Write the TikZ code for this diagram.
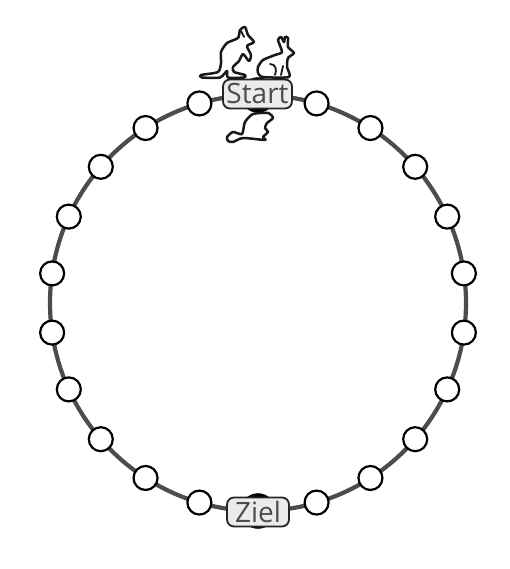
\documentclass[tikz,border=0pt]{standalone}
\usepackage{fontspec}
\usetikzlibrary{calc}
\setmainfont{Open Sans}
\begin{document}
\begin{tikzpicture}[x=1pt,y=-1pt,
  ring/.style={draw=black!70,line width=4.2pt},
  stone/.style={circle,draw=black,fill=white,line width=2.2pt,minimum size=24pt,inner sep=0pt},
  endstone/.style={circle,draw=black,fill=black,minimum size=35pt,inner sep=0pt},
  tag/.style={draw=black!85,fill=black!8,line width=1.8pt,rounded corners=7pt,text=black!70,font=\fontsize{28}{28}\selectfont,inner sep=0pt,minimum height=29pt},
  animal/.style={draw=black!90,fill=white,line width=2.5pt,line join=round,smooth cycle,tension=0.4},
  detail/.style={draw=black!90,line width=1.8pt,line cap=round}]
\useasboundingbox (0,0) rectangle (510,569);
\coordinate (c) at (258,303);
\draw[ring] (c) circle (208);
\node[endstone] (s0) at ($(c)+(0,-208)$) {};
\node[endstone] (s11) at ($(c)+(0,208)$) {};
\foreach \i in {1,...,10,12,13,...,21}{
  \node[stone] (s\i) at ($(c)+({208*sin(\i*360/22)},{-208*cos(\i*360/22)})$) {};
}
\node[tag,minimum width=69pt] (start) at (257.5,94) {Start};
\node[tag,minimum width=62pt] (ziel) at (258,512) {Ziel};
% kangaroo
\draw[animal] plot coordinates {(201,75) (218,72) (221,63) (221,52) (227,43) (238,38) (240,30) (245,27) (248,35) (254,42) (247,46) (251,55) (249,61) (243,54) (239,61) (233,67) (234,72) (245,75) (244,77.5) (228,77.5) (227,71) (220,77.5) (202,77.5)};
\draw[detail] (241,31) -- (244,37);
% rabbit
\draw[animal] plot coordinates {(258,67) (263,60) (275,55) (282,52) (278,40) (281,37) (284,42) (285,37) (288,38) (288,47) (294,53) (288,58) (287,67) (289,77) (263,77) (258,73)};
\draw[detail] (270,64) .. controls (276,64) and (277,70) .. (275,75);
\draw[detail] (283,66) -- (281,75);
% beaver
\draw[animal] plot coordinates {(227,137) (233,132) (242,134) (245,122) (253,114) (268,113) (273,118) (267,123) (265,128) (268,132) (263,137) (265,140) (243,138) (233,142) (228,141)};
\end{tikzpicture}
\end{document}
